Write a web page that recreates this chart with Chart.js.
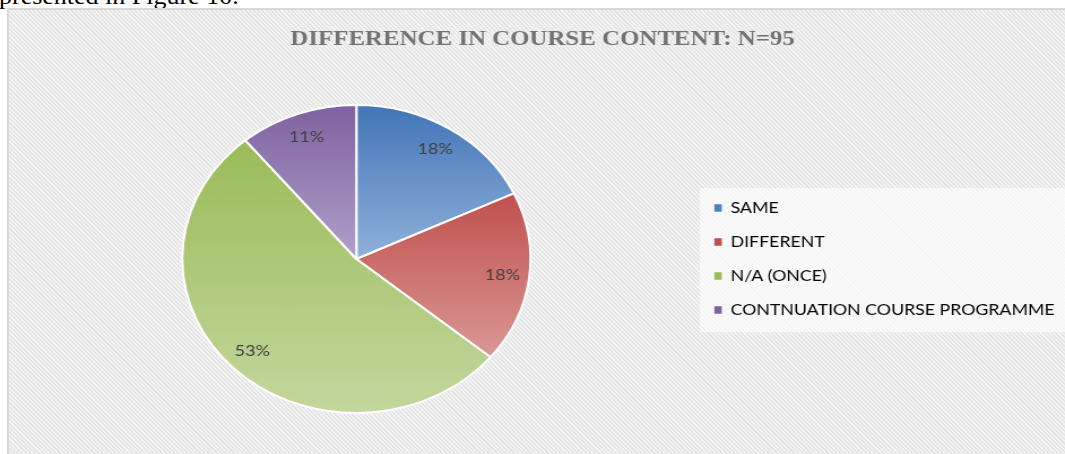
<!DOCTYPE html>
<html>
<head>
<meta charset="utf-8">
<script src="https://cdn.jsdelivr.net/npm/chart.js@4.4.1/dist/chart.umd.min.js"></script>
<style>
  html, body { margin: 0; padding: 0; background: #fff; overflow: hidden; width: 1065px; height: 454px; }
  #pageText {
    position: absolute; left: -1px; top: -15px;
    font-family: "Liberation Serif", serif; font-size: 23px; line-height: 23px;
    color: #000; white-space: nowrap;
    transform: scaleX(1.13); transform-origin: 0 0;
  }
  #chartBox {
    position: absolute; left: 7px; top: 8px; width: 1100px; height: 480px;
    border-left: 2px solid #d9d9d9; border-top: 2px solid #d9d9d9;
    background: repeating-linear-gradient(45deg, #f2f2f2 0px, #f2f2f2 1.5px, #e6e6e6 1.5px, #e6e6e6 3px);
  }
  #myChart { position: absolute; left: 0; top: 0; }
</style>
</head>
<body>
<div id="pageText">presented in Figure 10.</div>
<div id="chartBox"></div>
<canvas id="myChart" width="950" height="454" style="width:1074px;height:454px;"></canvas>
<script>
const titleText = "DIFFERENCE IN COURSE CONTENT: N=95";
const categories = ["SAME", "DIFFERENT", "N/A (ONCE)", "CONTNUATION COURSE PROGRAMME"];
const percents = [18, 18, 53, 11];
const topColors = ["#4375b8", "#c0504d", "#9bbb59", "#7f62a1"];
const bottomColors = ["#90b1da", "#da9895", "#c4d79d", "#b0a0c9"];
const legendColors = ["#4f81bd", "#c0504d", "#9bbb59", "#8064a2"];

const canvasWidth = 950;
const legendFont = { family: "Lato", size: 15.7 };
const legendPadding = 18.3;
const boxW = 6.6;

// work out side paddings so the legend text and the title sit where they should
const probe = document.createElement("canvas").getContext("2d");
probe.font = legendFont.size + "px " + legendFont.family;
const longest = Math.max(...categories.map(c => probe.measureText(c).width));
const textStart = 646.3;
const padRight = canvasWidth - 10 - longest - textStart;
const padLeft = 2 * 479.9 - (canvasWidth - padRight);

// vertical gradient per slice, from its own top to its own bottom
const sliceGradient = {
    id: "sliceGradient",
    beforeDatasetsDraw(chart) {
        const ctx = chart.ctx;
        chart.getDatasetMeta(0).data.forEach((arc, i) => {
            const p = arc.getProps(["x", "y", "startAngle", "endAngle", "outerRadius"]);
            let top = p.y, bottom = p.y;
            for (let a = p.startAngle; a <= p.endAngle; a += 0.01) {
                const py = p.y + p.outerRadius * Math.sin(a);
                top = Math.min(top, py);
                bottom = Math.max(bottom, py);
            }
            const ey = p.y + p.outerRadius * Math.sin(p.endAngle);
            top = Math.min(top, ey);
            bottom = Math.max(bottom, ey);
            const g = ctx.createLinearGradient(0, top, 0, bottom);
            g.addColorStop(0, topColors[i]);
            g.addColorStop(1, bottomColors[i]);
            arc.options.backgroundColor = g;
        });
    }
};

// percent labels near the outer edge of each slice
const sliceLabels = {
    id: "sliceLabels",
    afterDatasetsDraw(chart) {
        const ctx = chart.ctx;
        ctx.save();
        ctx.font = "16px Lato";
        ctx.fillStyle = "#404040";
        ctx.textAlign = "center";
        ctx.textBaseline = "middle";
        chart.getDatasetMeta(0).data.forEach((arc, i) => {
            const p = arc.getProps(["x", "y", "startAngle", "endAngle", "outerRadius"]);
            const mid = (p.startAngle + p.endAngle) / 2;
            const r = p.outerRadius * 0.845;
            ctx.fillText(percents[i] + "%", p.x + Math.cos(mid) * r, p.y + Math.sin(mid) * r);
        });
        ctx.restore();
    }
};

// light panel behind the legend
const legendPanel = {
    id: "legendPanel",
    beforeDraw(chart) {
        const lg = chart.legend;
        if (!lg || !lg.columnSizes) return;
        const colH = lg.columnSizes[0].height;
        const y0 = (lg.top + legendPadding + lg.bottom - colH) / 2;
        const ctx = chart.ctx;
        ctx.save();
        ctx.fillStyle = "rgba(255,255,255,0.62)";
        ctx.fillRect(lg.left + 5.5, y0 - 12, canvasWidth, colH - 4 + 12);
        ctx.restore();
    }
};

const ctx = document.getElementById("myChart").getContext("2d");
const chart = new Chart(ctx, {
    type: "pie",
    data: {
        labels: categories,
        datasets: [{
            data: percents,
            backgroundColor: legendColors,
            borderColor: "#ffffff",
            borderWidth: 2
        }]
    },
    options: {
        responsive: false,
        devicePixelRatio: 1,
        animation: false,
        layout: {
            padding: { top: 10, bottom: 40, left: padLeft, right: padRight }
        },
        plugins: {
            title: {
                display: true,
                text: titleText,
                color: "#727272",
                font: { family: "Liberation Serif", size: 22, weight: "bold" },
                padding: { top: 16, bottom: 51.6 }
            },
            legend: {
                position: "right",
                fullSize: false,
                labels: {
                    font: legendFont,
                    color: "#404040",
                    boxWidth: boxW,
                    boxHeight: 7.5,
                    padding: legendPadding,
                    generateLabels(chart) {
                        return categories.map((c, i) => ({
                            text: c,
                            fillStyle: legendColors[i],
                            strokeStyle: legendColors[i],
                            lineWidth: 0,
                            index: i
                        }));
                    }
                }
            },
            tooltip: { enabled: false }
        }
    },
    plugins: [legendPanel, sliceGradient, sliceLabels]
});
</script>
</body>
</html>
